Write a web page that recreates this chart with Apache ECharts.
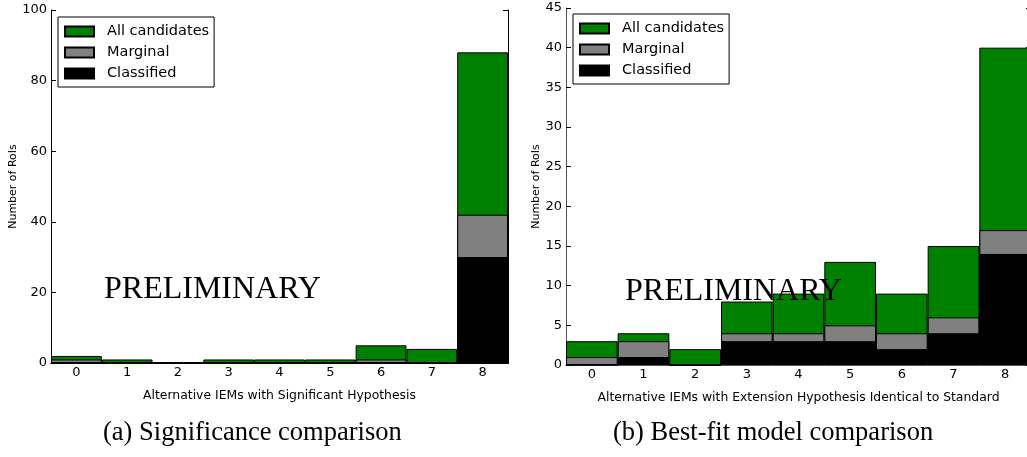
<!DOCTYPE html>
<html>
<head>
<meta charset="utf-8">
<script src="https://cdn.jsdelivr.net/npm/echarts@6/dist/echarts.min.js"></script>
<style>
  html, body { margin: 0; padding: 0; background: #fff; overflow: hidden; }
  #main { width: 1034px; height: 457px; }
</style>
</head>
<body>
<div id="main"></div>
<script>
// bins
var bins = ['0', '1', '2', '3', '4', '5', '6', '7', '8'];

// (a) significance comparison
var sigAll = [2, 1, 0, 1, 1, 1, 5, 4, 88];
var sigMarginal = [1, 0, 0, 0, 0, 0, 1, 0, 42];
var sigClassified = [0, 0, 0, 0, 0, 0, 0, 0, 30];

// (b) best-fit model comparison
var fitAll = [3, 4, 2, 8, 9, 13, 9, 15, 40];
var fitMarginal = [1, 3, 0, 4, 4, 5, 4, 6, 17];
var fitClassified = [0, 1, 0, 3, 3, 3, 2, 4, 14];

var names = ['All candidates', 'Marginal', 'Classified'];
var colors = ['#008000', '#808080', '#000000'];

var font = 'DejaVu Sans';

// chart is a bit wider than the window: panel (b) runs off the right edge
var myChart = echarts.init(document.getElementById('main'));

function legend(left, top) {
    return {
        data: names,
        orient: 'vertical',
        left: left, top: top,
        backgroundColor: '#fff',
        borderColor: '#000', borderWidth: 1, borderRadius: 0,
        padding: [6, 5, 5, 6],
        itemWidth: 29, itemHeight: 10, itemGap: 4,
        icon: 'rect',
        selectedMode: false,
        textStyle: {fontFamily: font, fontSize: 14.5, color: '#000', padding: [0, 0, 0, 8], lineHeight: 17}
    };
}

function xAxes(grid, name, lineColor) {
    return [{
        type: 'category', gridIndex: grid, data: bins, position: 'bottom',
        name: name, nameLocation: 'middle', nameGap: 27,
        nameTextStyle: {fontFamily: font, fontSize: 12.4, color: '#000'},
        axisLine: {lineStyle: {color: lineColor, width: 1}},
        axisTick: {inside: true, alignWithLabel: true, length: 5, lineStyle: {color: '#000'}},
        axisLabel: {fontFamily: font, fontSize: 13, color: '#000', margin: 3},
        splitLine: {show: false}
    }, {
        type: 'category', gridIndex: grid, data: bins, position: 'top',
        axisLine: {lineStyle: {color: lineColor, width: 1}},
        axisTick: {inside: true, alignWithLabel: true, length: 5, lineStyle: {color: '#000'}},
        axisLabel: {show: false},
        splitLine: {show: false}
    }];
}

function yAxes(grid, max, interval, lineColor, gap) {
    return [{
        type: 'value', gridIndex: grid, min: 0, max: max, interval: interval,
        name: 'Number of RoIs', nameLocation: 'middle', nameGap: gap,
        nameTextStyle: {fontFamily: font, fontSize: 11, color: '#000'},
        axisLine: {show: true, lineStyle: {color: lineColor, width: 1}},
        axisTick: {show: true, inside: true, length: 5, lineStyle: {color: '#000'}},
        axisLabel: {fontFamily: font, fontSize: 13, color: '#000', margin: 4},
        splitLine: {show: false}
    }, {
        type: 'value', gridIndex: grid, min: 0, max: max, interval: interval, position: 'right',
        axisLine: {show: true, lineStyle: {color: lineColor, width: 1}},
        axisTick: {show: true, inside: true, length: 5, lineStyle: {color: '#000'}},
        axisLabel: {show: false},
        splitLine: {show: false}
    }];
}

function bars(values, idx, axis) {
    return {
        name: names[idx], type: 'bar', data: values,
        xAxisIndex: axis, yAxisIndex: axis,
        barGap: '-100%', barCategoryGap: 0,
        itemStyle: {color: colors[idx], borderColor: '#000', borderWidth: 1},
        emphasis: {disabled: true},
        z: 2 + idx
    };
}

var option = {
    animation: false,
    backgroundColor: '#fff',
    legend: [legend(58, 17), legend(573, 14)],
    grid: [
        {left: 51, width: 457, top: 10, bottom: 94},
        {left: 566, width: 465, top: 8, bottom: 92}
    ],
    xAxis: xAxes(0, 'Alternative IEMs with Significant Hypothesis', '#000')
        .concat(xAxes(1, 'Alternative IEMs with Extension Hypothesis Identical to Standard', '#555')),
    yAxis: yAxes(0, 100, 20, '#000', 31).concat(yAxes(1, 45, 5, '#555', 23)),
    series: [
        bars(sigAll, 0, 0), bars(sigMarginal, 1, 0), bars(sigClassified, 2, 0),
        bars(fitAll, 0, 2), bars(fitMarginal, 1, 2), bars(fitClassified, 2, 2)
    ],
    graphic: [
        {type: 'text', left: 104, top: 274, z: 100,
            style: {text: 'PRELIMINARY', font: '32px "Liberation Serif"', fill: '#000'}},
        {type: 'text', left: 625, top: 276, z: 100,
            style: {text: 'PRELIMINARY', font: '32px "Liberation Serif"', fill: '#000'}},
        {type: 'text', left: 103, top: 420,
            style: {text: '(a) Significance comparison', font: '26.5px "Liberation Serif"', fill: '#000'}},
        {type: 'text', left: 613, top: 420,
            style: {text: '(b) Best-fit model comparison', font: '26.5px "Liberation Serif"', fill: '#000'}}
    ]
};

myChart.setOption(option);
</script>
</body>
</html>
